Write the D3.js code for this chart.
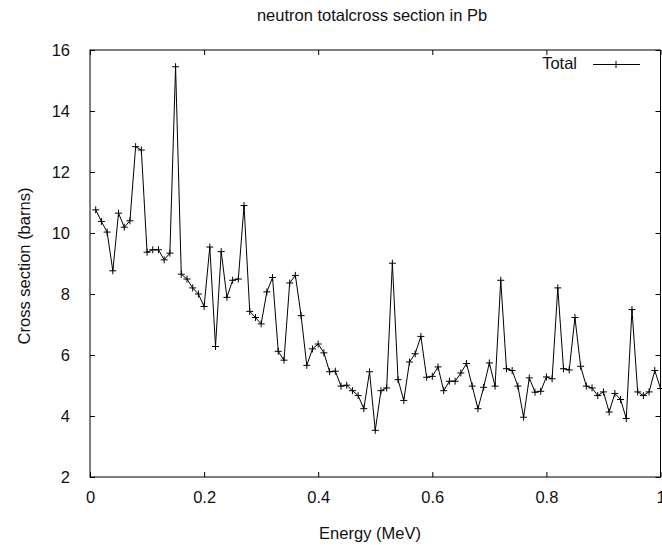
<!DOCTYPE html>
<html>
<head>
<meta charset="utf-8">
<script src="https://cdn.jsdelivr.net/npm/d3@7"></script>
<style>
  html, body { margin: 0; padding: 0; background: #fff; }
  svg { display: block; }
  text { font-family: "Liberation Sans", Arial, sans-serif; fill: #111; }
</style>
</head>
<body>
<svg id="chart" width="662" height="545"></svg>
<script>
// ---- data ----
const title = "neutron totalcross section in Pb";
const xLabel = "Energy (MeV)";
const yLabel = "Cross section (barns)";
const seriesName = "Total";
const energy = [
  0.01,0.02,0.03,0.04,0.05,0.06,0.07,0.08,0.09,0.10,
  0.11,0.12,0.13,0.14,0.15,0.16,0.17,0.18,0.19,0.20,
  0.21,0.22,0.23,0.24,0.25,0.26,0.27,0.28,0.29,0.30,
  0.31,0.32,0.33,0.34,0.35,0.36,0.37,0.38,0.39,0.40,
  0.41,0.42,0.43,0.44,0.45,0.46,0.47,0.48,0.49,0.50,
  0.51,0.52,0.53,0.54,0.55,0.56,0.57,0.58,0.59,0.60,
  0.61,0.62,0.63,0.64,0.65,0.66,0.67,0.68,0.69,0.70,
  0.71,0.72,0.73,0.74,0.75,0.76,0.77,0.78,0.79,0.80,
  0.81,0.82,0.83,0.84,0.85,0.86,0.87,0.88,0.89,0.90,
  0.91,0.92,0.93,0.94,0.95,0.96,0.97,0.98,0.99,1.00
];
const crossSection = [
  10.76,10.38,10.03,8.76,10.65,10.19,10.40,12.83,12.72,9.37,
  9.45,9.45,9.12,9.34,15.45,8.65,8.49,8.20,8.00,7.59,
  9.54,6.28,9.39,7.89,8.45,8.49,10.90,7.43,7.23,7.02,
  8.07,8.54,6.12,5.83,8.36,8.61,7.29,5.66,6.20,6.36,
  6.07,5.45,5.47,4.98,5.01,4.83,4.67,4.24,5.45,3.53,
  4.83,4.92,9.01,5.19,4.51,5.77,6.04,6.61,5.27,5.30,
  5.61,4.83,5.14,5.14,5.41,5.72,4.98,4.24,4.94,5.74,
  4.98,8.45,5.55,5.49,4.98,3.96,5.25,4.78,4.81,5.28,
  5.22,8.20,5.55,5.51,7.23,5.63,4.98,4.92,4.67,4.79,
  4.13,4.74,4.54,3.92,7.49,4.79,4.67,4.79,5.49,4.90
];
const xTicks = [0, 0.2, 0.4, 0.6, 0.8, 1];
const yTicks = [2, 4, 6, 8, 10, 12, 14, 16];
const xDomain = [0, 1];
const yDomain = [2, 16];

// ---- layout ----
const svg = d3.select("#chart");
const plotL = 90, plotR = 660.5, plotT = 50, plotB = 477;
const fontSize = 16.5;
const tickLen = 5;

const x = d3.scaleLinear().domain(xDomain).range([plotL, plotR]);
const y = d3.scaleLinear().domain(yDomain).range([plotB, plotT]);

// frame
svg.append("rect")
  .attr("x", plotL).attr("y", plotT)
  .attr("width", plotR - plotL).attr("height", plotB - plotT)
  .attr("fill", "none").attr("stroke", "#000").attr("stroke-width", 1);

const fmtX = d => (d === 0 || d === 1) ? d3.format("d")(d) : d3.format(".1f")(d);
const xAxisB = d3.axisBottom(x).tickValues(xTicks).tickFormat(fmtX).tickSizeInner(-tickLen).tickSizeOuter(0).tickPadding(14);
const xAxisT = d3.axisTop(x).tickValues(xTicks).tickFormat("").tickSizeInner(-tickLen).tickSizeOuter(0);
const yAxisL = d3.axisLeft(y).tickValues(yTicks).tickFormat(d3.format("d")).tickSizeInner(-tickLen).tickSizeOuter(0).tickPadding(20);
const yAxisR = d3.axisRight(y).tickValues(yTicks).tickFormat("").tickSizeInner(-tickLen).tickSizeOuter(0);

function styleAxis(g) {
  g.select(".domain").remove();
  g.selectAll(".tick line").attr("stroke", "#000");
  g.selectAll(".tick text").attr("font-size", fontSize).attr("fill", "#111")
    .style("font-family", '"Liberation Sans", Arial, sans-serif');
}
svg.append("g").attr("transform", `translate(0,${plotB})`).call(xAxisB).call(styleAxis);
svg.append("g").attr("transform", `translate(0,${plotT})`).call(xAxisT).call(styleAxis);
svg.append("g").attr("transform", `translate(${plotL},0)`).call(yAxisL).call(styleAxis);
svg.append("g").attr("transform", `translate(${plotR},0)`).call(yAxisR).call(styleAxis);

svg.append("clipPath").attr("id", "clip").append("rect")
  .attr("x", plotL).attr("y", plotT).attr("width", plotR - plotL + 4).attr("height", plotB - plotT);

const data = energy.map((e, i) => ({ e, v: crossSection[i] }));
const line = d3.line().x(d => x(d.e)).y(d => y(d.v));
const plot = svg.append("g").attr("clip-path", "url(#clip)");
plot.append("path").datum(data)
  .attr("d", line).attr("fill", "none").attr("stroke", "#000").attr("stroke-width", 1);

const ms = 3.5;
function plus(sel) {
  sel.append("line").attr("x1", -ms).attr("x2", ms).attr("y1", 0).attr("y2", 0);
  sel.append("line").attr("x1", 0).attr("x2", 0).attr("y1", -ms).attr("y2", ms);
  sel.selectAll("line").attr("stroke", "#000").attr("stroke-width", 1);
}
plot.selectAll("g.pt").data(data).join("g").attr("class", "pt")
  .attr("transform", d => `translate(${x(d.e)},${y(d.v)})`)
  .each(function () { plus(d3.select(this)); });

// legend
const lg = svg.append("g");
lg.append("text").attr("x", 577).attr("y", 69).attr("text-anchor", "end")
  .attr("font-size", fontSize).text(seriesName);
lg.append("line").attr("x1", 593).attr("x2", 640).attr("y1", 64.5).attr("y2", 64.5)
  .attr("stroke", "#000").attr("stroke-width", 1);
lg.append("g").attr("transform", "translate(616,64.5)").call(plus);

// title and axis labels
svg.append("text").attr("x", 372).attr("y", 21).attr("text-anchor", "middle")
  .attr("font-size", fontSize).text(title);
svg.append("text").attr("x", 370).attr("y", 539).attr("text-anchor", "middle")
  .attr("font-size", fontSize).text(xLabel);
svg.append("text").attr("transform", "translate(30,266) rotate(-90)").attr("text-anchor", "middle")
  .attr("font-size", fontSize).text(yLabel);
</script>
</body>
</html>
